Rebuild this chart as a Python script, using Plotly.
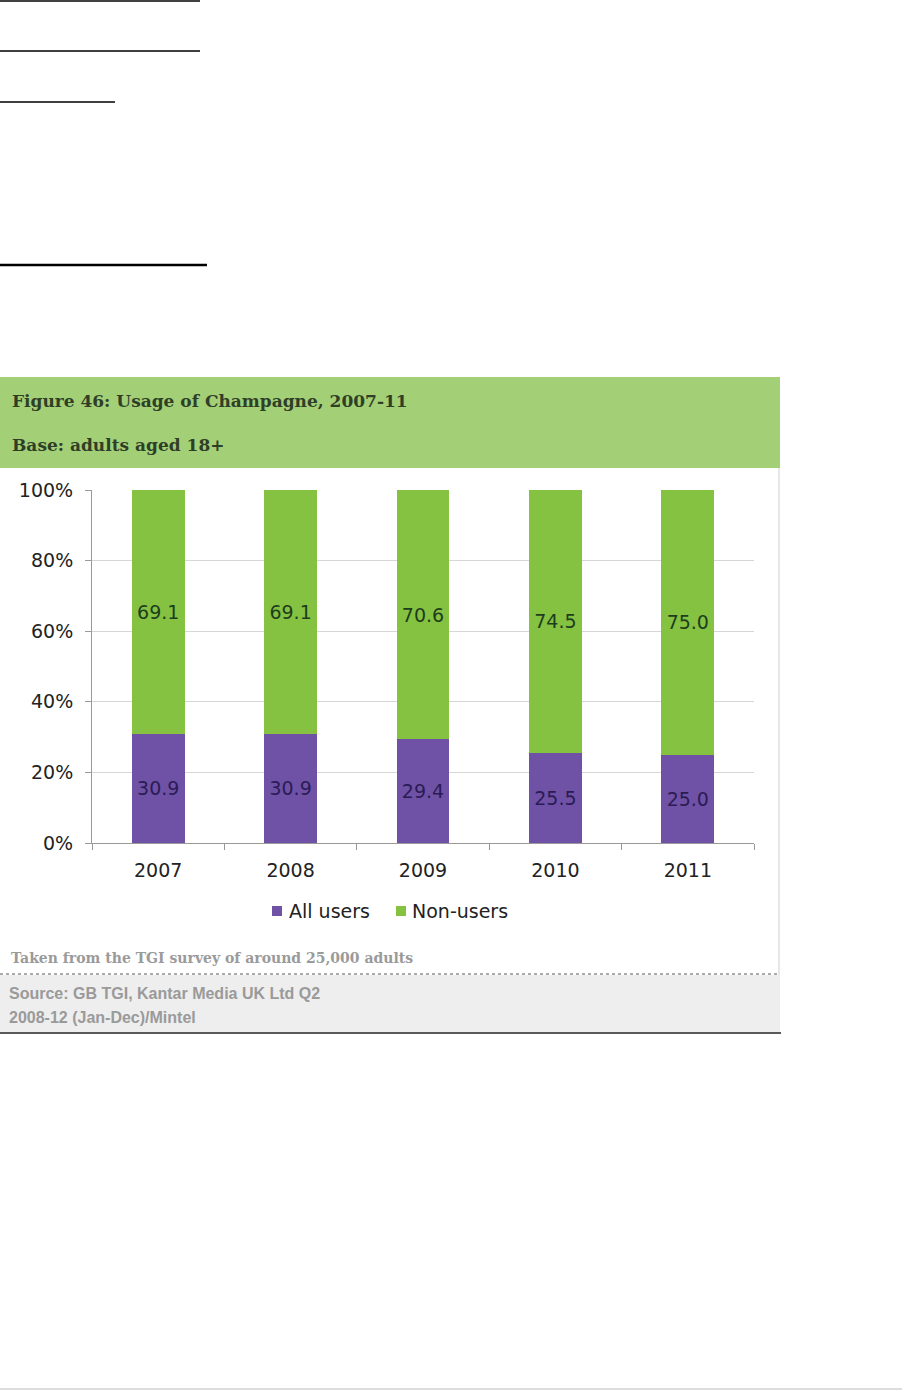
"""Usage of Champagne, 2007-11 - stacked bar recreation"""
import plotly.graph_objects as go

W, H = 902, 1390

years = ["2007", "2008", "2009", "2010", "2011"]
all_users = [30.9, 30.9, 29.4, 25.5, 25.0]
non_users = [69.1, 69.1, 70.6, 74.5, 75.0]
y_ticks = [0, 20, 40, 60, 80, 100]
y_tick_text = [f"{v}%" for v in y_ticks]

PURPLE = "#6f52a6"
GREEN = "#86c241"
TICK_FONT = "DejaVu Sans"


def px(x):
    return x / W


def py(y):
    return 1 - y / H


fig = go.Figure()

fig.add_trace(go.Bar(
    x=years, y=all_users, name="All users",
    marker=dict(color=PURPLE, line=dict(width=0)),
    text=[f"{v:.1f}" for v in all_users], textposition="inside",
    insidetextanchor="middle",
    textfont=dict(family=TICK_FONT, size=19, color="#2b1b55"),
))
fig.add_trace(go.Bar(
    x=years, y=non_users, name="Non-users",
    marker=dict(color=GREEN, line=dict(width=0)),
    text=[f"{v:.1f}" for v in non_users], textposition="inside",
    insidetextanchor="middle",
    textfont=dict(family=TICK_FONT, size=19, color="#1d3d1d"),
))

fig.update_layout(
    width=W, height=H,
    margin=dict(l=0, r=0, t=0, b=0, autoexpand=False),
    barmode="stack", bargap=0.6,
    paper_bgcolor="white", plot_bgcolor="white",
    showlegend=False,
    uniformtext=dict(mode="show", minsize=10),
)

fig.update_xaxes(
    domain=[px(92), px(754)], automargin=False,
    showline=True, linecolor="#999", linewidth=1,
    ticks="outside", tickson="boundaries", ticklen=6, tickcolor="#999",
    ticklabelstandoff=10,
    tickfont=dict(family=TICK_FONT, size=19, color="#222"),
    showgrid=False,
)
fig.update_yaxes(
    domain=[py(843), py(490)], automargin=False,
    range=[0, 100], tickmode="array", tickvals=y_ticks, ticktext=y_tick_text,
    showline=True, linecolor="#999", linewidth=1,
    ticks="outside", ticklen=6, tickcolor="#999",
    ticklabelstandoff=8,
    gridcolor="#d6d6d6", gridwidth=1,
    tickfont=dict(family=TICK_FONT, size=19, color="#222"),
)

shapes = []
# header lines on the page
for y, x1, w in [(1, 200, 1.5), (51, 200, 1.5), (102, 115, 1.5), (265, 207, 2.5)]:
    shapes.append(dict(type="line", xref="paper", yref="paper",
                       x0=0, x1=px(x1), y0=py(y), y1=py(y),
                       line=dict(color="black", width=w)))
# green header box
shapes.append(dict(type="rect", xref="paper", yref="paper", layer="below",
                   x0=0, x1=px(780), y0=py(468), y1=py(377),
                   fillcolor="#a3cf77", line=dict(width=0)))
# chart panel right border
shapes.append(dict(type="line", xref="paper", yref="paper",
                   x0=px(779), x1=px(779), y0=py(975), y1=py(468),
                   line=dict(color="#cfcfcf", width=1)))
# grey source box
shapes.append(dict(type="rect", xref="paper", yref="paper", layer="below",
                   x0=0, x1=px(780), y0=py(1032), y1=py(975),
                   fillcolor="#eeeeee", line=dict(width=0)))
shapes.append(dict(type="line", xref="paper", yref="paper",
                   x0=0, x1=px(779), y0=py(974), y1=py(974),
                   line=dict(color="#555", width=1, dash="dot")))
shapes.append(dict(type="line", xref="paper", yref="paper",
                   x0=0, x1=px(781), y0=py(1033), y1=py(1033),
                   line=dict(color="#222", width=1.5)))
# faint page edge at the bottom
shapes.append(dict(type="line", xref="paper", yref="paper",
                   x0=0, x1=1, y0=py(1389), y1=py(1389),
                   line=dict(color="#d0d0d0", width=1.5)))
# legend swatches
for x0, col in [(272, PURPLE), (396, GREEN)]:
    shapes.append(dict(type="rect", xref="paper", yref="paper",
                       x0=px(x0), x1=px(x0 + 10), y0=py(916), y1=py(906),
                       fillcolor=col, line=dict(width=0)))
fig.update_layout(shapes=shapes)

notes = [
    ("<b>Figure 46: Usage of Champagne, 2007-11</b>", 10, 401, "DejaVu Serif", 17, "#2f3f27"),
    ("<b>Base: adults aged 18+</b>", 10, 445, "DejaVu Serif", 17, "#2f3f27"),
    ("<b>Taken from the TGI survey of around 25,000 adults</b>", 9, 958, "DejaVu Serif", 14, "#9a9a9a"),
    ("<b>Source: GB TGI, Kantar Media UK Ltd Q2</b>", 7, 993, "Liberation Sans", 16, "#9a9a9a"),
    ("<b>2008-12 (Jan-Dec)/Mintel</b>", 7, 1017, "Liberation Sans", 16, "#9a9a9a"),
    ("All users", 287, 911, TICK_FONT, 19, "#222"),
    ("Non-users", 410, 911, TICK_FONT, 19, "#222"),
]
for txt, x, y, fam, size, col in notes:
    fig.add_annotation(
        text=txt, xref="paper", yref="paper", x=px(x), y=py(y),
        xanchor="left", yanchor="middle", showarrow=False,
        font=dict(family=fam, size=size, color=col),
    )

fig.write_html("out.html", config={"displayModeBar": False},
               post_script="document.body.style.margin = '0';")
